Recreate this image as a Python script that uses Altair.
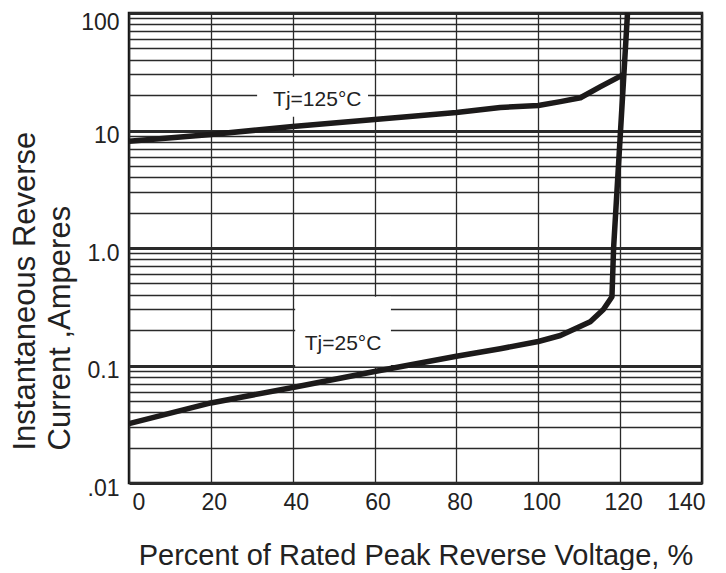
import altair as alt
import pandas as pd

# ---------------- data ----------------
x_ticks = [0, 20, 40, 60, 80, 100, 120, 140]
y_tick_values = [0.01, 0.1, 1, 10, 100]
y_tick_labels = [".01", "0.1", "1.0", "10", "100"]
minor_multipliers = [1, 2, 3, 4, 5, 6, 7, 8, 9]

t125_x = [0, 20, 40, 60, 80, 90.7, 100, 105.4, 110.3, 115.2, 120.9]
t125_y = [8.1, 9.25, 10.8, 12.4, 14.2, 15.7, 16.3, 17.6, 19.0, 23.6, 30.0]

t25_x = [0, 20, 40, 60, 80, 90.7, 100, 105.4, 112.7, 115.9, 118.0, 118.4, 121.8]
t25_y = [0.032, 0.048, 0.065, 0.089, 0.12, 0.139, 0.16, 0.18, 0.236, 0.30, 0.385, 1.0, 100]

label_text = ["Tj=125°C", "Tj=25°C"]
label_x = [46, 52.3]
label_y = [18.3, 0.153]

# white boxes behind labels (data coordinates)
box_x0 = [31.3, 40.6]
box_x1 = [58.4, 64.0]
box_y0 = [13.1, 0.098]
box_y1 = [28.7, 0.385]

x_title = "Percent of Rated Peak Reverse Voltage, %"
y_title = ["Instantaneous Reverse", "Current ,Amperes"]

# ---------------- tables ----------------
curves = pd.concat([
    pd.DataFrame({"pct": t125_x, "amps": t125_y, "series": "Tj=125"}),
    pd.DataFrame({"pct": t25_x, "amps": t25_y, "series": "Tj=25"}),
])
labels = pd.DataFrame({"pct": label_x, "amps": label_y, "text": label_text})
boxes = pd.DataFrame({"pct": box_x0, "pct2": box_x1, "amps": box_y0, "amps2": box_y1})

y_grid_values = sorted(set(
    [round(m * d, 10) for d in y_tick_values[:-1] for m in minor_multipliers] + [y_tick_values[-1]]
))

label_expr = ""
for v, t in zip(y_tick_values, y_tick_labels):
    label_expr += f"abs(datum.value-{v})<{v}*1e-6 ? '{t}' : "
label_expr += "''"

decade_test = "abs(log(datum.value)/LN10 - round(log(datum.value)/LN10)) < 0.001"

FONT = "Liberation Sans, Arial, Helvetica, sans-serif"
INK = "#1c1a1a"

x_scale = alt.Scale(domain=[0, 140], nice=False, zero=False)
y_scale = alt.Scale(type="log", domain=[0.01, 100], nice=False)

x_axis = alt.Axis(
    values=x_ticks, grid=True, gridColor="#2a2a2a", gridWidth=1.3, gridOpacity=1,
    ticks=False, domain=False, labelFontSize=23, labelFont=FONT, labelColor="#222",
    labelPadding=8, labelFlush=True, labelOffset=3, labelOverlap=False,
    title=x_title, titleFont=FONT, titleFontSize=29, titleFontWeight="normal",
    titleColor="#222", titleY=81, titleBaseline="alphabetic",
)
y_axis = alt.Axis(
    values=y_grid_values, grid=True, gridColor="#2a2a2a", gridOpacity=1,
    gridWidth={"condition": {"test": decade_test, "value": 3}, "value": 1.5},
    ticks=False, domain=False, labelExpr=label_expr, labelOverlap=False,
    labelFontSize=23, labelFont=FONT, labelColor="#222", labelPadding=10,
    labelOffset={"condition": {"test": "datum.value >= 99", "value": 9}, "value": 5},
    labelBaseline="middle",
    title=y_title, titleFont=FONT, titleFontSize=31, titleFontWeight="normal",
    titleColor="#222", titleAngle=270, titleAlign="left", titleBaseline="top",
    titleX=-119, titleY=437, titleLineHeight=35,
)

X = alt.X("pct:Q", scale=x_scale, axis=x_axis)
Y = alt.Y("amps:Q", scale=y_scale, axis=y_axis)

rects = alt.Chart(boxes).mark_rect(color="white", opacity=1).encode(
    x=X, x2="pct2:Q", y=Y, y2="amps2:Q",
)

lines = alt.Chart(curves).mark_line(color=INK, strokeWidth=5.5, strokeJoin="round", strokeCap="butt").encode(
    x=X, y=Y, detail="series:N",
)

texts = alt.Chart(labels).mark_text(font=FONT, fontSize=21, color="#222", baseline="middle", align="center").encode(
    x=X, y=Y, text="text:N",
)

chart = alt.layer(rects, lines, texts).properties(
    width=573, height=470,
    padding={"left": 121, "top": 5, "right": 15, "bottom": 87},
    autosize=alt.AutoSizeParams(type="none"),
    background="white",
).configure_view(stroke="#111", strokeWidth=2.5)

chart.save("out.html", embed_options={"renderer": "svg", "actions": False})
